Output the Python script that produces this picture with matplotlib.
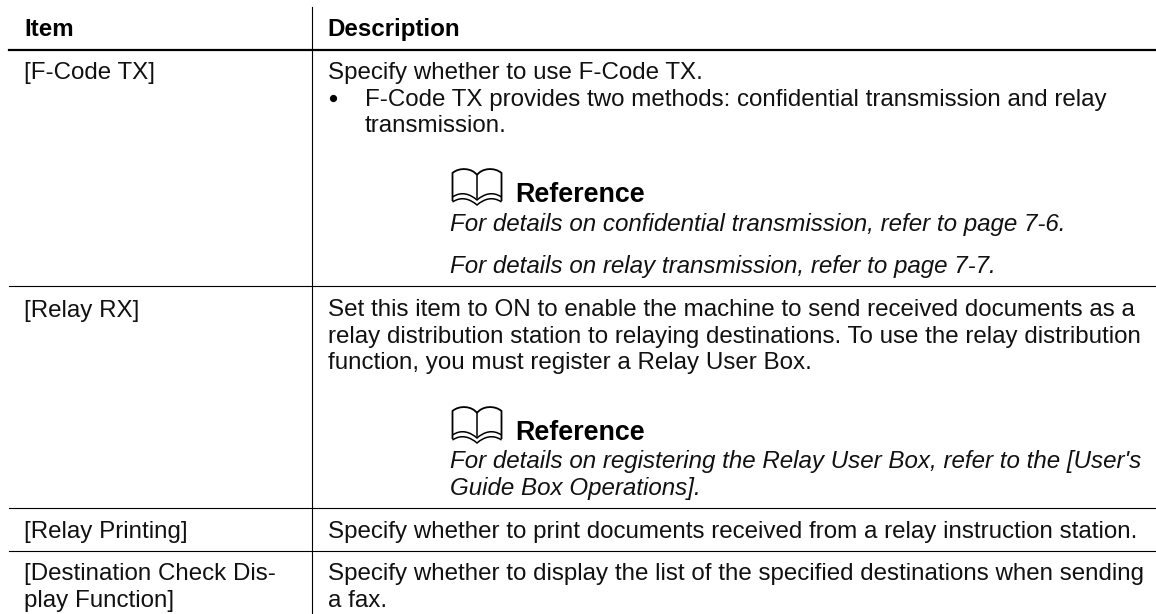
import matplotlib
matplotlib.use('Agg')
import matplotlib.pyplot as plt
from matplotlib.patches import PathPatch
from matplotlib.path import Path

plt.rcParams['font.family'] = ['Liberation Sans', 'DejaVu Sans']

# table text
headers = ['Item', 'Description']
items = ['[F-Code TX]', '[Relay RX]', '[Relay Printing]', '[Destination Check Dis-', 'play Function]']
descriptions = [
    'Specify whether to use F-Code TX.',
    'Set this item to ON to enable the machine to send received documents as a',
    'relay distribution station to relaying destinations. To use the relay distribution',
    'function, you must register a Relay User Box.',
    'Specify whether to print documents received from a relay instruction station.',
    'Specify whether to display the list of the specified destinations when sending',
    'a fax.',
]
bullet_lines = ['F-Code TX provides two methods: confidential transmission and relay', 'transmission.']
ref_title = 'Reference'
ref_notes = [
    'For details on confidential transmission, refer to page 7-6.',
    'For details on relay transmission, refer to page 7-7.',
    "For details on registering the Relay User Box, refer to the [User's",
    'Guide Box Operations].',
]

# layout in pixels
W, H = 1156, 614
FS = 17.36
INK = '#111111'
item_y = [79, 317, 538, 580, 607]
desc_y = [79, 316.5, 343, 369, 538, 580, 607]
bullet_y = [106, 132]
note_y = [230.5, 273, 468, 494.5]
book_tops = [168, 406]
thin_lines = [286, 508, 551]


def draw_book(ax, x, y):
    # open book icon, x/y = top left corner
    mid = x + 25.5
    end = x + 51
    left = Path([(mid, y + 7), (mid - 5, y + 0), (x + 8, y - 1), (x + 1, y + 5),
                 (x + 1, y + 33)],
                [Path.MOVETO, Path.CURVE4, Path.CURVE4, Path.CURVE4, Path.LINETO])
    right = Path([(mid, y + 7), (mid + 5, y + 0), (end - 8, y - 1), (end - 1, y + 5),
                  (end - 1, y + 33)],
                 [Path.MOVETO, Path.CURVE4, Path.CURVE4, Path.CURVE4, Path.LINETO])
    for p in (left, right):
        ax.add_patch(PathPatch(p, fill=False, ec='black', lw=1.3))
    ax.plot([mid, mid], [y + 7, y + 30], color='black', lw=1.1)
    for dy in (0, 5):
        wave = Path([(x + 1, y + 29 + dy), (x + 10, y + 23 + dy), (mid - 7, y + 26 + dy), (mid, y + 32 + dy),
                     (mid + 7, y + 26 + dy), (end - 10, y + 23 + dy), (end - 1, y + 29 + dy)],
                    [Path.MOVETO, Path.CURVE4, Path.CURVE4, Path.CURVE4, Path.CURVE4, Path.CURVE4, Path.CURVE4])
        ax.add_patch(PathPatch(wave, fill=False, ec='black', lw=1.1))


fig = plt.figure(figsize=(W / 100, H / 100), dpi=100)
ax = fig.add_axes([0, 0, 1, 1])
ax.set_xlim(0, W)
ax.set_ylim(H, 0)
ax.axis('off')

ax.plot([311.5, 311.5], [7, H], color='black', lw=0.8)
ax.plot([9, W], [50, 50], color='black', lw=1.6)
for y in thin_lines:
    ax.plot([9, W], [y, y], color='black', lw=0.8)

ax.text(24.5, 36, headers[0], fontsize=FS, fontweight='bold', va='baseline', color='black')
ax.text(327.5, 36, headers[1], fontsize=FS, fontweight='bold', va='baseline', color='black')

for txt, y in zip(items, item_y):
    ax.text(24.5, y, txt, fontsize=FS, va='baseline', color=INK)
for txt, y in zip(descriptions, desc_y):
    ax.text(327.5, y, txt, fontsize=FS, va='baseline', color=INK)

ax.plot([333], [97.7], 'o', color='black', ms=5.2, mew=0)
for txt, y in zip(bullet_lines, bullet_y):
    ax.text(365, y, txt, fontsize=FS, va='baseline', color=INK)

for top in book_tops:
    draw_book(ax, 451.5, top)
    ax.text(515, top + 34, ref_title, fontsize=19.4, fontweight='bold', va='baseline', color='black')
for txt, y in zip(ref_notes, note_y):
    ax.text(450, y, txt, fontsize=FS, style='italic', va='baseline', color=INK)

fig.savefig('out.png', dpi=100)
